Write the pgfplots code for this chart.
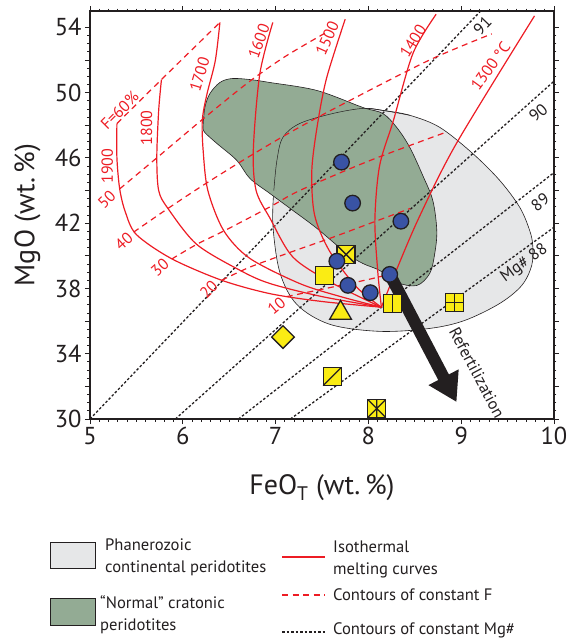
\documentclass[border=0pt]{standalone}
\usepackage{fontspec}
\setmainfont{PT Sans}
\usepackage{pgfplots}
\pgfplotsset{compat=1.18}
\usetikzlibrary{arrows.meta}
\definecolor{myred}{RGB}{237,28,36}
\definecolor{phgray}{RGB}{230,231,232}
\definecolor{crgreen}{RGB}{147,171,148}
\definecolor{dotblue}{RGB}{57,83,164}
\definecolor{myyellow}{RGB}{250,236,20}
\definecolor{outl}{RGB}{35,31,32}

\pgfdeclareplotmark{sqx}{%
 \pgfpathrectangle{\pgfqpoint{-\pgfplotmarksize}{-\pgfplotmarksize}}{\pgfqpoint{2\pgfplotmarksize}{2\pgfplotmarksize}}%
 \pgfusepathqfillstroke
 \pgfpathmoveto{\pgfqpoint{-\pgfplotmarksize}{-\pgfplotmarksize}}\pgfpathlineto{\pgfqpoint{\pgfplotmarksize}{\pgfplotmarksize}}%
 \pgfpathmoveto{\pgfqpoint{-\pgfplotmarksize}{\pgfplotmarksize}}\pgfpathlineto{\pgfqpoint{\pgfplotmarksize}{-\pgfplotmarksize}}%
 \pgfusepathqstroke}
\pgfdeclareplotmark{sqbar}{%
 \pgfpathrectangle{\pgfqpoint{-\pgfplotmarksize}{-\pgfplotmarksize}}{\pgfqpoint{2\pgfplotmarksize}{2\pgfplotmarksize}}%
 \pgfusepathqfillstroke
 \pgfpathmoveto{\pgfqpoint{0pt}{-\pgfplotmarksize}}\pgfpathlineto{\pgfqpoint{0pt}{\pgfplotmarksize}}%
 \pgfusepathqstroke}
\pgfdeclareplotmark{sqplus}{%
 \pgfpathrectangle{\pgfqpoint{-\pgfplotmarksize}{-\pgfplotmarksize}}{\pgfqpoint{2\pgfplotmarksize}{2\pgfplotmarksize}}%
 \pgfusepathqfillstroke
 \pgfpathmoveto{\pgfqpoint{0pt}{-\pgfplotmarksize}}\pgfpathlineto{\pgfqpoint{0pt}{\pgfplotmarksize}}%
 \pgfpathmoveto{\pgfqpoint{-\pgfplotmarksize}{0pt}}\pgfpathlineto{\pgfqpoint{\pgfplotmarksize}{0pt}}%
 \pgfusepathqstroke}
\pgfdeclareplotmark{sqslash}{%
 \pgfpathrectangle{\pgfqpoint{-\pgfplotmarksize}{-\pgfplotmarksize}}{\pgfqpoint{2\pgfplotmarksize}{2\pgfplotmarksize}}%
 \pgfusepathqfillstroke
 \pgfpathmoveto{\pgfqpoint{-\pgfplotmarksize}{-\pgfplotmarksize}}\pgfpathlineto{\pgfqpoint{\pgfplotmarksize}{\pgfplotmarksize}}%
 \pgfusepathqstroke}
\pgfdeclareplotmark{sqstar}{%
 \pgfpathrectangle{\pgfqpoint{-\pgfplotmarksize}{-\pgfplotmarksize}}{\pgfqpoint{2\pgfplotmarksize}{2\pgfplotmarksize}}%
 \pgfusepathqfillstroke
 \pgfpathmoveto{\pgfqpoint{-\pgfplotmarksize}{-\pgfplotmarksize}}\pgfpathlineto{\pgfqpoint{\pgfplotmarksize}{\pgfplotmarksize}}%
 \pgfpathmoveto{\pgfqpoint{-\pgfplotmarksize}{\pgfplotmarksize}}\pgfpathlineto{\pgfqpoint{\pgfplotmarksize}{-\pgfplotmarksize}}%
 \pgfpathmoveto{\pgfqpoint{0pt}{-\pgfplotmarksize}}\pgfpathlineto{\pgfqpoint{0pt}{\pgfplotmarksize}}%
 \pgfusepathqstroke}

\begin{document}
\begin{tikzpicture}
\path[use as bounding box] (-90pt,-219pt) rectangle (495pt,419pt);
\begin{axis}[
 at={(0pt,0pt)}, anchor=south west,
 width=464pt, height=408pt, scale only axis,
 xmin=5, xmax=10, ymin=30, ymax=55,
 xtick={5,...,10}, ytick={30,34,...,54},
 extra y ticks={32,36,...,52}, extra y tick labels={},
 minor x tick num=9, minor y tick num=7,
 tick align=outside, major tick length=5pt, minor tick length=2.5pt,
 axis line style={line width=1.3pt, outl},
 tick style={outl, line width=0.8pt},
 ticklabel style={font=\fontsize{24.5}{24.5}\selectfont, text=outl},
 /pgf/number format/assume math mode=true,
 xlabel={FeO\textsubscript{T} (wt.\,\%)}, ylabel={MgO (wt.\,\%)},
 label style={font=\fontsize{28}{28}\selectfont, text=outl},
 xlabel style={at={(axis description cs:0.5,-0.169)}, anchor=center},
 ylabel style={at={(axis description cs:-0.135,0.5)}, anchor=center},
 clip mode=individual,
]
% Phanerozoic field
\addplot[fill=phgray, draw=outl, line width=0.6pt, smooth, tension=0.55] coordinates {
(6.981,44.0)(7.014,45.84)(7.078,47.25)(7.261,48.11)(7.617,48.72)(7.940,49.03)(8.155,48.91)(8.446,48.61)(8.769,47.87)(9.124,46.27)(9.415,44.62)(9.631,42.97)(9.738,41.55)(9.771,40.63)(9.760,39.41)(9.652,38.18)(9.415,37.08)(9.038,36.04)(8.661,35.55)(8.123,35.37)(7.585,35.80)(7.229,37.02)(7.046,38.98)(6.971,41.86)(6.981,44.0)};
% cratonic field
\addplot[fill=crgreen, draw=outl, line width=0.6pt, smooth, tension=0.55] coordinates {
(6.217,47.86)(6.238,49.09)(6.292,49.94)(6.400,50.62)(6.529,50.86)(6.723,50.80)(6.938,50.62)(7.445,50.13)(7.940,49.09)(8.155,48.72)(8.306,47.86)(8.446,46.64)(8.586,44.92)(8.694,43.39)(8.737,41.55)(8.715,40.14)(8.661,38.92)(8.521,38.18)(8.306,38.37)(8.123,39.10)(7.940,39.53)(7.768,40.14)(7.445,41.68)(7.186,42.78)(6.938,43.82)(6.723,44.74)(6.583,45.84)(6.368,46.88)(6.238,47.55)(6.217,47.86)};
\addplot[draw=outl, line width=0.5pt, smooth, tension=0.55] coordinates {
(6.981,44.0)(7.014,45.84)(7.078,47.25)(7.261,48.11)(7.617,48.72)(7.940,49.03)(8.155,48.91)(8.446,48.61)};
% Mg# contours
\addplot[outl, line width=1.3pt, dash pattern=on 2.5pt off 2pt] coordinates {(5,30)(9.21,55)};
\addplot[outl, line width=1.3pt, dash pattern=on 2.5pt off 2pt] coordinates {(5.92,30)(10,50.7)};
\addplot[outl, line width=1.3pt, dash pattern=on 2.5pt off 2pt] coordinates {(6.6,30)(10,45.1)};
\addplot[outl, line width=1.3pt, dash pattern=on 2.5pt off 2pt] coordinates {(7.16,30)(10,41.75)};
% F contours
\addplot[myred, line width=1.2pt, dash pattern=on 6pt off 4.5pt, smooth] coordinates {(5.29,48.1)(5.77,50.8)(6.40,54.3)};
\addplot[myred, line width=1.2pt, dash pattern=on 6pt off 4.5pt, smooth] coordinates {(5.32,44.1)(5.72,46.0)(6.20,48.3)(6.70,50.6)(7.10,52.2)(7.55,53.7)};
\addplot[myred, line width=1.2pt, dash pattern=on 6pt off 4.5pt, smooth] coordinates {(5.47,41.45)(5.84,42.9)(6.24,44.4)(6.72,46.1)(7.20,47.7)(7.76,49.4)(8.66,52.0)(9.33,53.6)};
\addplot[myred, line width=1.2pt, dash pattern=on 6pt off 4.5pt, smooth] coordinates {(5.88,39.8)(6.15,40.7)(6.47,41.6)(6.94,43.0)(7.26,44.0)(8.0,45.8)(8.85,47.6)};
\addplot[myred, line width=1.2pt, dash pattern=on 6pt off 4.5pt, smooth] coordinates {(6.42,38.5)(6.72,39.3)(7.2,40.3)(7.6,41.1)(8.0,41.95)(8.45,42.9)};
\addplot[myred, line width=1.2pt, dash pattern=on 6pt off 4.5pt, smooth] coordinates {(7.12,37.5)(7.5,37.95)(8.0,38.55)(8.25,38.9)};
% isotherms
\addplot[myred, line width=1.2pt, smooth] coordinates {(5.29,48.1)(5.29,46.0)(5.32,44.1)(5.38,42.7)(5.50,41.3)(5.88,39.82)(6.42,38.5)(6.94,37.68)(7.5,37.2)(8.14,36.85)};
\addplot[myred, line width=1.2pt, smooth] coordinates {(5.77,50.8)(5.74,48.9)(5.72,46.05)(5.74,44.0)(5.84,42.9)(6.15,40.7)(6.62,39.1)(6.94,38.3)(7.5,37.5)(8.14,36.85)};
\addplot[myred, line width=1.2pt, smooth] coordinates {(6.40,54.3)(6.35,51.95)(6.26,49.9)(6.21,48.3)(6.22,46.4)(6.27,44.0)(6.44,41.55)(6.72,39.85)(7.26,38.3)(7.7,37.5)(8.14,36.85)};
\addplot[myred, line width=1.2pt, smooth] coordinates {(6.97,54.3)(6.83,51.15)(6.76,46.5)(6.79,44.0)(6.94,42.3)(7.19,39.9)(7.62,38.3)(8.14,36.85)};
\addplot[myred, line width=1.2pt, smooth] coordinates {(7.75,54.5)(7.55,50.9)(7.45,48.0)(7.39,45.2)(7.42,42.5)(7.58,40.3)(7.87,38.1)(8.14,36.85)};
\addplot[myred, line width=1.2pt, smooth] coordinates {(8.73,54.8)(8.48,52.4)(8.27,48.3)(8.12,45.5)(8.07,42.2)(8.10,39.1)(8.14,36.85)};
\addplot[myred, line width=1.2pt, smooth] coordinates {(8.14,36.85)(8.30,39.1)(8.55,42.4)(8.95,46.9)(9.79,54.7)};
% refertilization arrow
\draw[outl, line width=12pt, -{Triangle[width=32pt,length=28pt]}] (axis cs:8.23,38.86) -- (axis cs:8.95,31.04);
% yellow symbols
\addplot[only marks, mark=square*, mark size=9pt, mark options={fill=myyellow, draw=outl, line width=1.3pt}] coordinates {(7.53,38.79)};
\addplot[only marks, mark=sqx, mark size=9pt, mark options={fill=myyellow, draw=outl, line width=1.3pt}] coordinates {(7.76,40.08)};
\addplot[only marks, mark=sqbar, mark size=9pt, mark options={fill=myyellow, draw=outl, line width=1.3pt}] coordinates {(8.26,37.07)};
\addplot[only marks, mark=sqplus, mark size=9pt, mark options={fill=myyellow, draw=outl, line width=1.3pt}] coordinates {(8.93,37.16)};
\addplot[only marks, mark=sqslash, mark size=9pt, mark options={fill=myyellow, draw=outl, line width=1.3pt}] coordinates {(7.61,32.6)};
\addplot[only marks, mark=sqstar, mark size=9pt, mark options={fill=myyellow, draw=outl, line width=1.3pt}] coordinates {(8.09,30.64)};
\addplot[only marks, mark=triangle*, mark size=12.5pt, mark options={fill=myyellow, draw=outl, line width=1.3pt}] coordinates {(7.70,36.5)};
\addplot[only marks, mark=square*, mark size=8pt, mark options={fill=myyellow, draw=outl, line width=1.3pt, rotate=45}] coordinates {(7.08,35.02)};
% blue circles
\addplot[only marks, mark=*, mark size=7.8pt, mark options={fill=dotblue, draw=outl, line width=1.3pt}] coordinates {(7.71,45.74)(7.83,43.23)(8.35,42.12)(7.66,39.67)(7.78,38.19)(8.02,37.74)(8.23,38.86)};
% labels
\begin{scope}[every node/.style={text=myred, font=\fontsize{16}{16}\selectfont, inner sep=0pt}]
\node[rotate=90] at (axis cs:5.186,45.49) {1900};
\node[rotate=90] at (axis cs:5.61,47.84) {1800};
\node[rotate=73] at (axis cs:6.18,51.1) {1700};
\node[rotate=70] at (axis cs:6.82,53.15) {1600};
\node[rotate=66] at (axis cs:7.556,53.35) {1500};
\node[rotate=58] at (axis cs:8.48,53.15) {1400};
\node[rotate=54] at (axis cs:9.315,51.62) {1300 °C};
\node[rotate=45] at (axis cs:5.32,48.9) {F=60\%};
\node[rotate=45] at (axis cs:5.18,43.43) {50};
\node[rotate=42] at (axis cs:5.366,40.9) {40};
\node[rotate=42] at (axis cs:5.754,39.27) {30};
\node[rotate=45] at (axis cs:6.28,37.94) {20};
\node[rotate=40] at (axis cs:7.01,36.92) {10};
\end{scope}
\begin{scope}[every node/.style={text=outl, font=\fontsize{16.5}{16.5}\selectfont, inner sep=0pt}]
\node[rotate=46] at (axis cs:9.23,54.1) {91};
\node[rotate=41] at (axis cs:9.83,48.77) {90};
\node[rotate=38] at (axis cs:9.85,43.27) {89};
\node[rotate=36] at (axis cs:9.68,39.53) {Mg\# 88};
\node[rotate=-62] at (axis cs:9.17,32.85) {Refertilization};
\end{scope}
\end{axis}
% legend
\begin{scope}[every node/.style={text=outl, font=\fontsize{16.6}{22}\selectfont, inner sep=0pt, anchor=west, align=left}]
\filldraw[fill=phgray, draw=outl, line width=0.6pt] (-40pt,-123pt) rectangle (5pt,-149pt);
\node at (15pt,-138pt) {Phanerozoic\\continental peridotites};
\filldraw[fill=crgreen, draw=outl, line width=0.6pt] (-40pt,-179pt) rectangle (5pt,-206pt);
\node at (10pt,-195.5pt) {“Normal” cratonic\\peridotites};
\draw[myred, line width=1.3pt] (192pt,-138pt) -- (235pt,-138pt);
\node at (243pt,-140pt) {Isothermal\\melting curves};
\draw[myred, line width=1.2pt, dash pattern=on 6pt off 4.5pt] (192pt,-176pt) -- (235pt,-176pt);
\node at (243pt,-176pt) {Contours of constant F};
\draw[outl, line width=1.3pt, dash pattern=on 2.5pt off 2pt] (192pt,-213pt) -- (235pt,-213pt);
\node at (243pt,-211pt) {Contours of constant Mg\#};
\end{scope}
\end{tikzpicture}
\end{document}
